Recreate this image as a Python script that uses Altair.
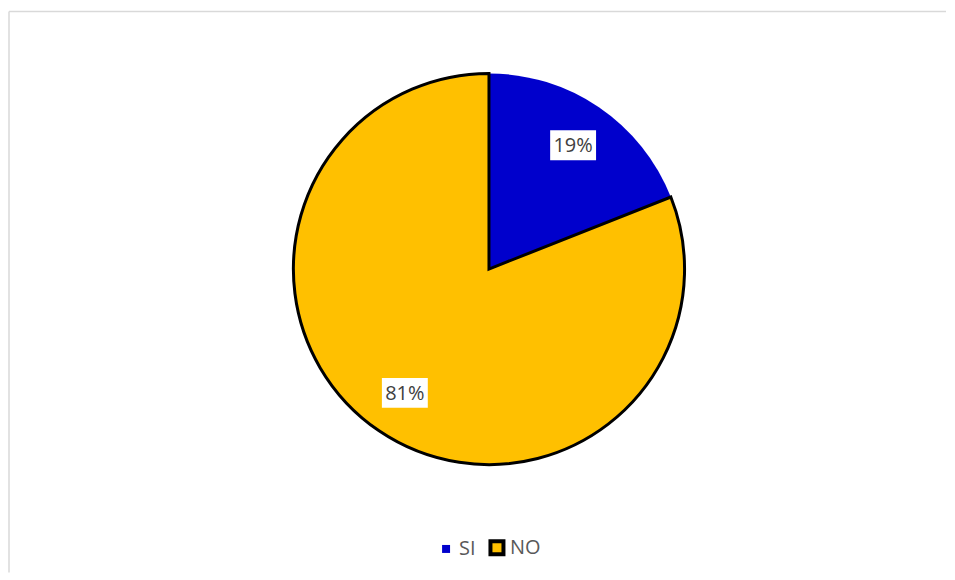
import altair as alt
import pandas as pd

categories = ["SI", "NO"]
values = [19, 81]
labels = ["19%", "81%"]
colors = ["#0000CC", "#FFC000"]

df = pd.DataFrame({"cat": categories, "val": values, "label": labels, "order": [0, 1]})

W, H = 939, 562
CX, CY, R = 481, 258, 196
LR = 150

base = alt.Chart(df)

fill_enc = alt.Fill("cat:N", scale=alt.Scale(domain=categories, range=colors),
                    legend=alt.Legend(title=None, orient="none", legendX=428, legendY=527,
                                      direction="horizontal", symbolType="square"))
stroke_enc = alt.Stroke("cat:N", scale=alt.Scale(domain=categories, range=["transparent", "#000000"]))

# hidden helper squares (covered by the pie) that give the legend its symbol sizes
legend_helper = base.mark_square(x=CX, y=CY, strokeWidth=4, opacity=1).encode(
    fill=fill_enc,
    stroke=stroke_enc,
    size=alt.Size("cat:N", scale=alt.Scale(domain=categories, range=[64, 170])),
)

pie = base.mark_arc(outerRadius=R, x=CX, y=CY, strokeWidth=3).encode(
    theta=alt.Theta("val:Q", stack=True),
    order=alt.Order("order:Q"),
    fill=fill_enc,
    stroke=stroke_enc,
)

pos = base.transform_joinaggregate(total="sum(val)").transform_window(
    cum="sum(val)", sort=[alt.SortField("order")]
).transform_calculate(
    mid="(datum.cum - datum.val/2) / datum.total * 2 * PI",
).transform_calculate(
    px=f"{CX} + {LR} * sin(datum.mid)",
    py=f"{CY} - {LR} * cos(datum.mid)",
).transform_calculate(
    x1="datum.px - 23", x2="datum.px + 23", y1="datum.py - 15", y2="datum.py + 15"
)

boxes = pos.mark_rect(color="white").encode(
    x=alt.X("x1:Q", scale=None), x2="x2:Q",
    y=alt.Y("y1:Q", scale=None), y2="y2:Q",
)

texts = pos.mark_text(font="Open Sans", fontSize=20, color="#404040", baseline="middle", dy=1).encode(
    x=alt.X("px:Q", scale=None), y=alt.Y("py:Q", scale=None), text="label:N"
)

frame_top = alt.Chart(pd.DataFrame({"a": [0]})).mark_rule(color="#D9D9D9", strokeWidth=1.5).encode(
    x=alt.value(0), x2=alt.value(W), y=alt.value(0)
)
frame_left = alt.Chart(pd.DataFrame({"a": [0]})).mark_rule(color="#D9D9D9", strokeWidth=1.5).encode(
    x=alt.value(0), y=alt.value(0), y2=alt.value(H)
)

chart = alt.layer(frame_top, frame_left, legend_helper, pie, boxes, texts).properties(
    width=W, height=H,
    padding={"left": 0, "top": 2, "right": 0, "bottom": 0},
).configure_view(stroke=None).configure_legend(
    symbolStrokeWidth=4, labelFont="Open Sans", labelFontSize=20, labelColor="#595959",
    columnPadding=6, labelOffset=3, symbolType="square",
)

chart.save("out.html", embed_options={"renderer": "svg", "actions": False})
